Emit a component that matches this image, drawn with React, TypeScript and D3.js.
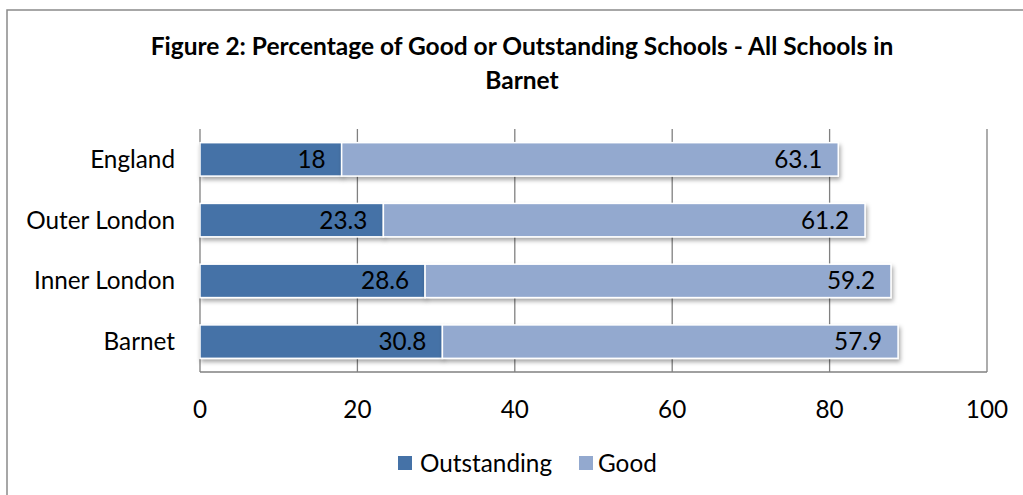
import React from "react";
import * as d3 from "d3";

const categories = ["England", "Outer London", "Inner London", "Barnet"];
const outstanding = [18, 23.3, 28.6, 30.8];
const good = [63.1, 61.2, 59.2, 57.9];
const xTicks = [0, 20, 40, 60, 80, 100];
const seriesNames = ["Outstanding", "Good"];
const colors = ["#4572A7", "#93A9CF"];

const FONT = "Lato, 'Open Sans', sans-serif";
const FS = 24.3;

export default function App() {
  const W = 1023;
  const H = 495;
  const x = d3.scaleLinear().domain([0, 100]).range([200, 987]);
  const y = d3
    .scaleBand<string>()
    .domain(categories)
    .range([129, 372])
    .paddingInner(0.45)
    .paddingOuter(0.225);
  const bw = y.bandwidth();
  const stacked = categories.map((c, i) => {
    const segs = [outstanding[i], good[i]];
    let acc = 0;
    return segs.map((v, k) => {
      const s = { cat: c, k, x0: acc, x1: acc + v, v };
      acc += v;
      return s;
    });
  });

  return (
    <svg
      width={W}
      height={H}
      style={{ position: "absolute", left: 0, top: 0, background: "#fff" }}
    >
      <defs>
        <filter id="sh" x="-10%" y="-30%" width="120%" height="180%">
          <feDropShadow dx="1.5" dy="3" stdDeviation="2" floodColor="#000" floodOpacity="0.35" />
        </filter>
      </defs>
      <rect x={7} y={10} width={1040} height={520} fill="#fff" stroke="#8a8a8a" strokeWidth={1.5} />
      <text x={522} y={55} textAnchor="middle" fontFamily={FONT} fontWeight="bold" fontSize={24.5} fill="#000">
        Figure 2: Percentage of Good or Outstanding Schools - All Schools in
      </text>
      <text x={522} y={89} textAnchor="middle" fontFamily={FONT} fontWeight="bold" fontSize={24.5} fill="#000">
        Barnet
      </text>
      {/* gridlines */}
      {xTicks.map((t) => (
        <line key={t} x1={x(t)} x2={x(t)} y1={129} y2={372} stroke="#808080" strokeWidth={1.3} />
      ))}
      <line x1={x(0)} x2={x(100)} y1={372} y2={372} stroke="#808080" strokeWidth={1.5} />
      {/* bars */}
      {stacked.map((segs, i) => (
        <g key={categories[i]}>
          {segs.map((s) => (
            <rect
              key={s.k}
              x={x(s.x0)}
              y={y(s.cat)!}
              width={x(s.x1) - x(s.x0)}
              height={bw}
              fill={colors[s.k]}
              stroke="#fff"
              strokeWidth={1.5}
              filter="url(#sh)"
            />
          ))}
          {segs.map((s) => (
            <text
              key={"l" + s.k}
              x={x(s.x1) - 16}
              y={y(s.cat)! + bw / 2}
              dy="0.35em"
              textAnchor="end"
              fontFamily={FONT}
              fontSize={FS}
              fill="#000"
            >
              {s.v}
            </text>
          ))}
        </g>
      ))}
      {/* category labels */}
      {categories.map((c) => (
        <text
          key={c}
          x={175}
          y={y(c)! + bw / 2}
          dy="0.35em"
          textAnchor="end"
          fontFamily={FONT}
          fontSize={FS}
          fill="#000"
        >
          {c}
        </text>
      ))}
      {/* x tick labels */}
      {xTicks.map((t) => (
        <text key={t} x={x(t)} y={409} dy="0.35em" textAnchor="middle" fontFamily={FONT} fontSize={FS} fill="#000">
          {t}
        </text>
      ))}
      {/* legend */}
      <rect x={398} y={456} width={14} height={14} fill={colors[0]} />
      <text x={420} y={463} dy="0.35em" fontFamily={FONT} fontSize={FS} fill="#000">
        {seriesNames[0]}
      </text>
      <rect x={579} y={456} width={14} height={14} fill={colors[1]} />
      <text x={598} y={463} dy="0.35em" fontFamily={FONT} fontSize={FS} fill="#000">
        {seriesNames[1]}
      </text>
    </svg>
  );
}
